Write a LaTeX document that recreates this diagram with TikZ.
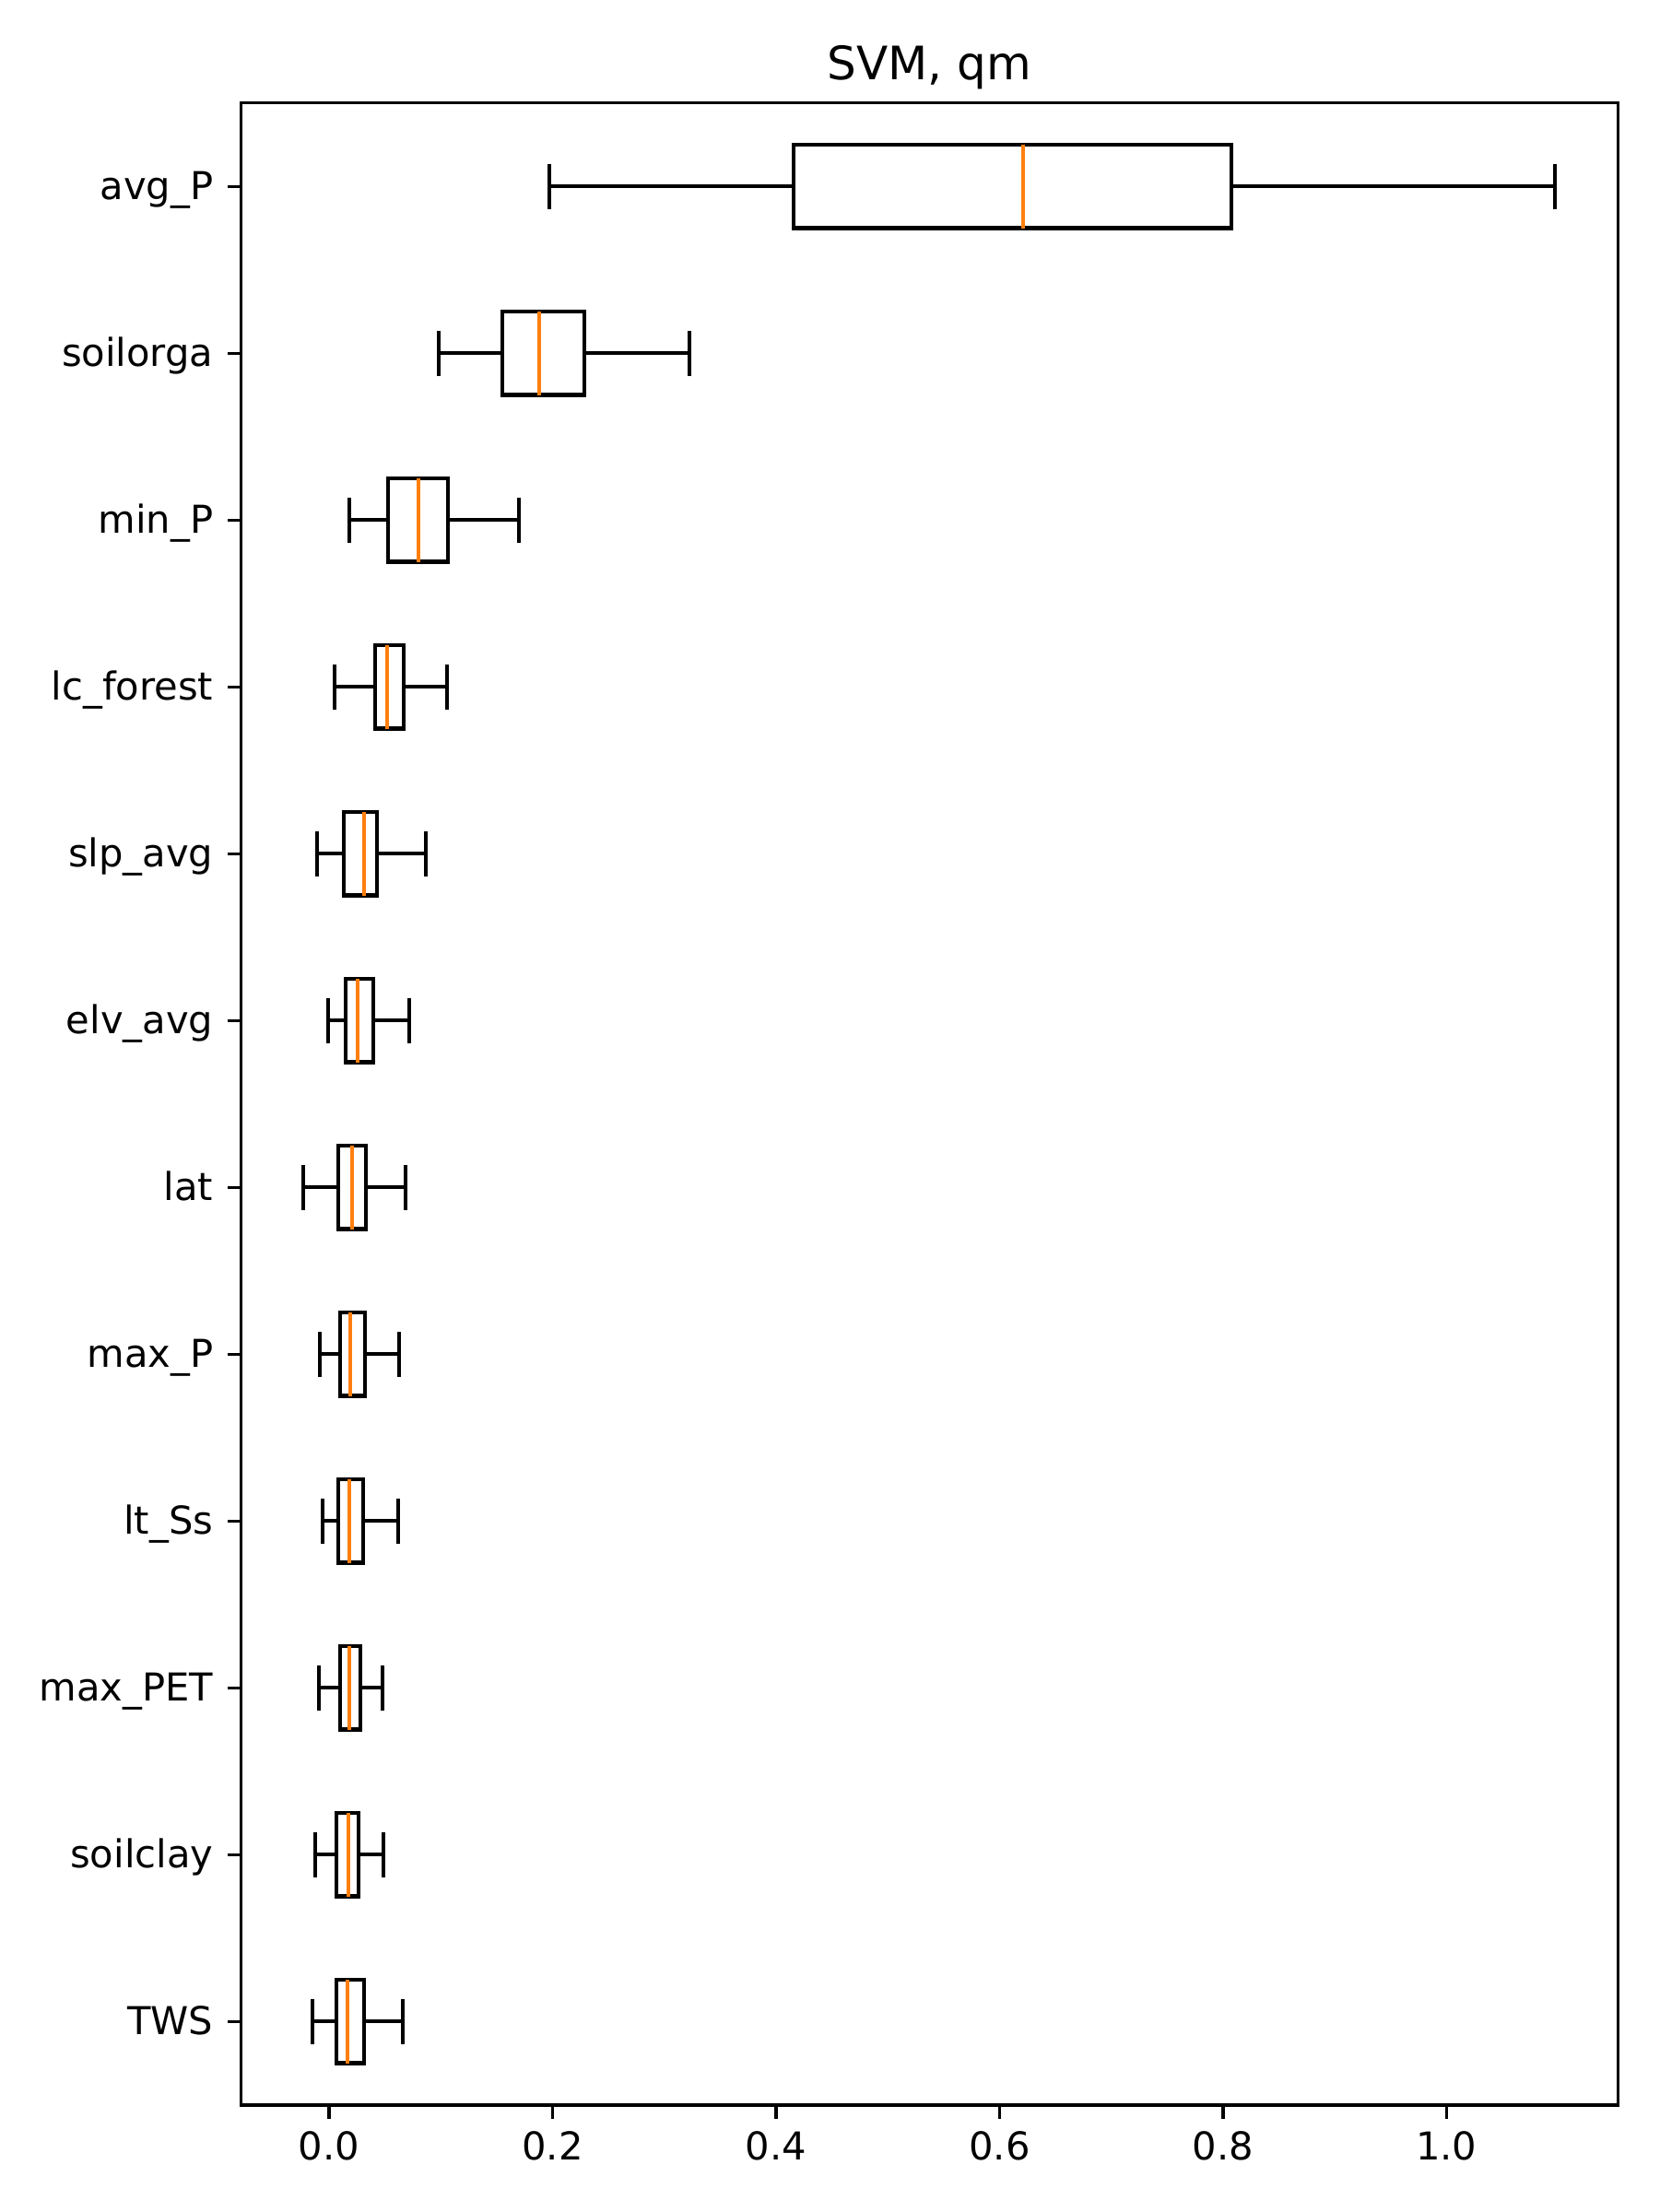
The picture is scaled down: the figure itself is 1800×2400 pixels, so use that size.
\documentclass[tikz,border=0pt]{standalone}
\usepackage{fontspec}
\setmainfont{DejaVu Sans}
\definecolor{mplorange}{HTML}{FF7F0E}
\begin{document}
\begin{tikzpicture}[x=0.24pt,y=-0.24pt,
  boxline/.style={line width=1pt, line cap=rect, line join=miter},
  medline/.style={draw=mplorange, line width=1pt, line cap=butt},
  spine/.style={line width=0.8pt, line cap=rect, line join=miter},
  tickmark/.style={line width=0.8pt},
  ticklabel/.style={inner sep=0pt, font=\fontsize{10}{12}\selectfont},
  titlelabel/.style={inner sep=0pt, font=\fontsize{12}{14.4}\selectfont}]
\useasboundingbox (0,0) rectangle (1800,2400);
\fill[white] (0,0) rectangle (1800,2400);
\coordinate (axNW) at (261.3,111.8);
\coordinate (axSE) at (1755.7,2284.0);
% boxes
\foreach \i/\lab/\lo/\qa/\me/\qb/\hi in {
 1/avg\_P/596.3/861.1/1110.4/1336.1/1686.7,
 2/soilorga/475.7/544.7/585/634.3/747.7,
 3/min\_P/379/420.7/454/486/562.7,
 4/lc\_forest/362.7/406.7/419.7/438/485,
 5/slp\_avg/343.7/373/395/409.3/461.7,
 6/elv\_avg/355.7/375/387.7/404.7/443.7,
 7/lat/328.7/366.7/381.7/397.3/439.7,
 8/max\_P/346.7/368.7/379.7/395.7/432.7,
 9/lt\_Ss/349.7/366.7/379/394/432,
 10/max\_PET/346/369/379/391/415,
 11/soilclay/342/364.7/378/389.3/416,
 12/TWS/339/365.3/377/395.3/437}{
  \pgfmathsetmacro\yy{202.3+181*(\i-1)}
  \pgfmathsetmacro\ba{\yy-45.25}
  \pgfmathsetmacro\bb{\yy+45.25}
  \pgfmathsetmacro\ca{\yy-22.6}
  \pgfmathsetmacro\cb{\yy+22.6}
  \coordinate (lo\i) at (\lo,\yy);
  \coordinate (qa\i) at (\qa,\yy);
  \coordinate (qb\i) at (\qb,\yy);
  \coordinate (hi\i) at (\hi,\yy);
  \draw[boxline] (lo\i) -- (qa\i);
  \draw[boxline] (qb\i) -- (hi\i);
  \draw[boxline] (\lo,\ca) -- (\lo,\cb);
  \draw[boxline] (\hi,\ca) -- (\hi,\cb);
  \draw[boxline] (\qa,\ba) rectangle (\qb,\bb);
  \draw[medline] (\me,\ba) -- (\me,\bb);
  % y tick and label
  \coordinate (yt\i) at (261.3,\yy);
  \draw[tickmark] (yt\i) -- ++(-14.6,0);
  \node[ticklabel, anchor=base east] (lab\i) at (232.1,\yy+14.4) {\lab};
}
% x ticks
\foreach \k/\v in {0/0.0,1/0.2,2/0.4,3/0.6,4/0.8,5/1.0}{
  \pgfmathsetmacro\xx{357+1212.3*\v}
  \coordinate (xt\k) at (\xx,2284.0);
  \draw[tickmark] (xt\k) -- ++(0,14.6);
  \node[ticklabel, anchor=base] (xl\k) at (\xx,2343.3) {\v};
}
% frame
\draw[spine] (axNW) rectangle (axSE);
% title
\node[titlelabel, anchor=base] (title) at (1008.5,86.8) {SVM, qm};
\end{tikzpicture}
\end{document}
